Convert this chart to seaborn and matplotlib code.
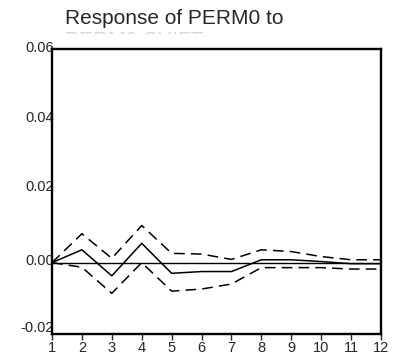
import matplotlib
matplotlib.use("Agg")
import matplotlib.pyplot as plt
import matplotlib.transforms as mtransforms
import seaborn as sns
import pandas as pd
from matplotlib.transforms import Bbox

sns.set_style("ticks")
plt.rcParams['font.family'] = ['Liberation Sans', 'DejaVu Sans']

periods = [1, 2, 3, 4, 5, 6, 7, 8, 9, 10, 11, 12]
response = [0.0, 0.0036, -0.0037, 0.0054, -0.0030, -0.0025, -0.0025, 0.0008, 0.0008, 0.0003, -0.0003, -0.0003]
upper = [0.0, 0.0081, 0.0012, 0.0104, 0.0026, 0.0024, 0.0009, 0.0036, 0.0031, 0.0017, 0.0008, 0.0008]
lower = [0.0, -0.0013, -0.0086, 0.0000, -0.0080, -0.0074, -0.0060, -0.0014, -0.0014, -0.0014, -0.0018, -0.0018]
yticks = [-0.02, 0.00, 0.02, 0.04, 0.06]
ytick_labels = ["-0.02", "0.00", "0.02", "0.04", "0.06"]
title = "Response of PERM0 to"
subtitle = "PERM0 SHIFT"

df = pd.DataFrame({"period": periods, "response": response, "upper": upper, "lower": lower})

fig = plt.figure(figsize=(3.99, 3.58), dpi=100)
ax = fig.add_axes([52/399, 1-334/358, (381-52)/399, (334-48.5)/358])

ax.axhline(0, color="black", lw=1.0, zorder=1)
sns.lineplot(data=df, x="period", y="response", ax=ax, color="black", lw=1.1)
sns.lineplot(data=df, x="period", y="upper", ax=ax, color="black", lw=1.1, linestyle=(0, (7, 4)))
sns.lineplot(data=df, x="period", y="lower", ax=ax, color="black", lw=1.1, linestyle=(0, (7, 4)))

ax.set_xlim(1, 12)
ax.set_ylim(-0.02, 0.06)
ax.set_xticks(periods)
ax.set_xticklabels([str(p) for p in periods], fontsize=10.5)
ax.set_yticks(yticks)
ax.set_yticklabels([])
ax.set_xlabel("")
ax.set_ylabel("")
ax.tick_params(axis="x", direction="out", length=4, width=1, pad=1)
ax.tick_params(axis="y", length=0)

label_shift_px = [5.5, 2, 4, 1.5, 0]
base = ax.get_yaxis_transform()
for yv, lab, dy in zip(yticks, ytick_labels, label_shift_px):
    off = mtransforms.ScaledTranslation(2 / 100, dy / 100, fig.dpi_scale_trans)
    ax.text(0, yv, lab, transform=base + off, ha="right", va="center",
            fontsize=10.5, clip_on=False, zorder=0)

for s in ax.spines.values():
    s.set_visible(True)
    s.set_linewidth(1.7)
    s.set_color("black")
    s.set_zorder(3)

fig.text(65/399, 1-18/358, title, fontsize=15, ha="left", va="center")
t = fig.text(65/399, 1-41/358, subtitle, fontsize=15, ha="left", va="center", color="#d8d8d8")
t.set_clip_box(Bbox.from_extents(0, 358-34, 399, 358-31.5))
t.set_clip_on(True)

fig.savefig("out.png", dpi=100)
